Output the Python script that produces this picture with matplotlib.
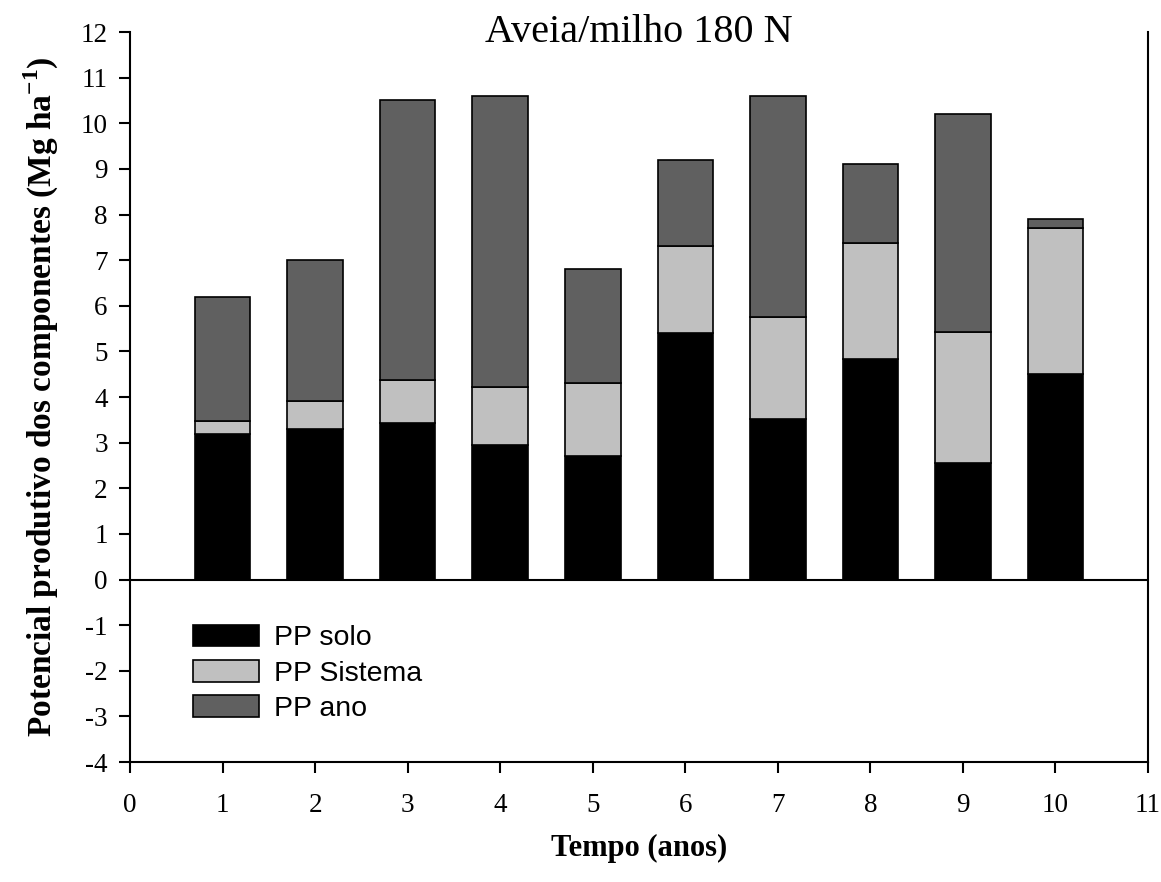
import numpy as np
import matplotlib.pyplot as plt

anos = np.arange(1, 11)
pp_solo = [3.2, 3.3, 3.42, 2.95, 2.7, 5.4, 3.52, 4.83, 2.55, 4.5]
pp_sistema = [0.28, 0.62, 0.95, 1.27, 1.6, 1.9, 2.23, 2.55, 2.87, 3.2]
pp_ano = [2.72, 3.08, 6.13, 6.38, 2.5, 1.9, 4.85, 1.72, 4.78, 0.2]

plt.rcParams['font.family'] = ['Liberation Serif']
plt.rcParams['axes.unicode_minus'] = False
plt.rcParams['mathtext.fontset'] = 'custom'
plt.rcParams['mathtext.rm'] = 'Liberation Serif:bold'
plt.rcParams['mathtext.bf'] = 'Liberation Serif:bold'

fig = plt.figure(figsize=(11.61, 8.82), dpi=100)
ax = fig.add_axes([0.112, 0.136, 0.8768, 0.8277])

base2 = np.array(pp_solo)
base3 = base2 + np.array(pp_sistema)
ax.bar(anos, pp_solo, width=0.6, color='#000000', edgecolor='black', lw=1.2, label='PP solo')
ax.bar(anos, pp_sistema, width=0.6, bottom=base2, color='#c0c0c0', edgecolor='black', lw=1.2, label='PP Sistema')
ax.bar(anos, pp_ano, width=0.6, bottom=base3, color='#606060', edgecolor='black', lw=1.2, label='PP ano')

ax.axhline(0, color='black', lw=1.5)
ax.set_xlim(0, 11)
ax.set_ylim(-4, 12)
ax.set_xticks(range(0, 12))
ax.set_yticks(range(-4, 13))
ax.spines['top'].set_visible(False)
for s in ['left', 'right', 'bottom']:
    ax.spines[s].set_linewidth(1.5)
ax.tick_params(direction='out', length=8, width=1.5, labelsize=19.5)
ax.tick_params(axis='x', pad=14)
ax.tick_params(axis='y', pad=8)

ax.text(5.5, 11.78, 'Aveia/milho 180 N', ha='center', va='baseline', fontsize=29)
ax.set_ylabel('Potencial produtivo dos componentes (Mg ha$^{-1}$)', fontsize=24, fontweight='bold', labelpad=14)
ax.set_xlabel('Tempo (anos)', fontsize=22, fontweight='bold', labelpad=12)

leg = ax.legend(loc='upper left', bbox_to_anchor=(0.037, 0.2235), frameon=False,
                prop={'family': 'Liberation Sans', 'size': 20.5},
                handlelength=2.3, handleheight=0.8, labelspacing=0.3, handletextpad=0.55)

plt.savefig('out.png', dpi=100)
